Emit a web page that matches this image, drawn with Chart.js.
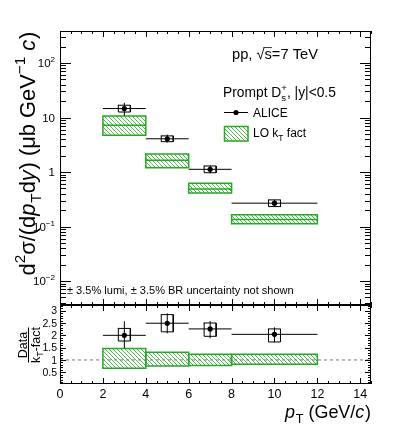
<!DOCTYPE html>
<html>
<head>
<meta charset="utf-8">
<script src="https://cdn.jsdelivr.net/npm/chart.js@4.4.1/dist/chart.umd.min.js"></script>
<style>
html,body{margin:0;padding:0;background:#fff;}
#wrap{position:relative;width:399px;height:437px;overflow:hidden;background:#fff;}
#cTop{position:absolute;left:0;top:0;}
#cBot{position:absolute;left:0;top:300px;}
</style>
</head>
<body>
<div id="wrap">
<canvas id="cTop" width="399" height="310"></canvas>
<canvas id="cBot" width="399" height="137"></canvas>
</div>
<script>
// ---------------- DATA ----------------
const binLow = [2, 4, 6, 8];
const binHigh = [4, 6, 8, 12];
const ptCenter = [3, 5, 7, 10];

const aliceValue    = [14.6, 4.07, 1.12, 0.268];
const aliceStatLow  = [10.8, 3.45, 0.95, 0.23];
const aliceStatHigh = [18.6, 4.85, 1.32, 0.31];
const aliceSysLow   = [12.6, 3.6, 0.97, 0.232];
const aliceSysHigh  = [16.8, 4.6, 1.29, 0.308];

const modelLow     = [4.73, 1.2, 0.41, 0.112];
const modelCentral = [7.2, 1.64, 0.49, 0.135];
const modelHigh    = [10.6, 2.14, 0.62, 0.164];

const ratioValue    = [2.0, 2.49, 2.26, 2.04];
const ratioStatLow  = [1.48, 2.08, 1.88, 1.71];
const ratioStatHigh = [2.57, 2.89, 2.58, 2.32];
const ratioSysLow   = [1.77, 2.14, 1.96, 1.73];
const ratioSysHigh  = [2.28, 2.84, 2.5, 2.26];
const ratioModelLow  = [0.66, 0.76, 0.78, 0.83];
const ratioModelHigh = [1.47, 1.31, 1.23, 1.23];
const ratioReference = [1];

const xTickValues = [0, 2, 4, 6, 8, 10, 12, 14];
const xTickLabels = ['0', '2', '4', '6', '8', '10', '12', '14'];
const yTopTickValues = [0.01, 0.1, 1, 10, 100];
const yTopTickLabels = ['10^{−2}', '10^{−1}', '1', '10', '10^{2}'];
const ratioTickValues = [0.5, 1, 1.5, 2, 2.5, 3];
const ratioTickLabels = ['0.5', '1', '1.5', '2', '2.5', '3'];

// ---------------- STYLE ----------------
const FONT = '"Liberation Sans", Arial, Helvetica, sans-serif';
const BLACK = '#000000';
const GREEN = 'rgb(34,170,34)';
const HATCH = 'rgb(80,185,80)';
const SYS_HW = 0.28;
const X_MIN = 0, X_MAX = 14.5;
const TOP_MIN = Math.pow(10, -2.44), TOP_MAX = Math.pow(10, 2.587);
const R_MIN = 0.025, R_MAX = 3.23;

function hatchPattern(ctx) {
  const t = document.createElement('canvas'); t.width = 4; t.height = 4;
  const g = t.getContext('2d');
  g.strokeStyle = HATCH; g.lineWidth = 1;
  g.beginPath();
  for (let k = -4; k <= 4; k += 4) { g.moveTo(k - 1, -1); g.lineTo(k + 5, 5); }
  g.stroke();
  return ctx.createPattern(t, 'repeat');
}

// ---------------- dataset builders ----------------
function seg(x0, y0, x1, y1, color, width, order, dash) {
  return { type: 'line', data: [{x: x0, y: y0}, {x: x1, y: y1}], borderColor: color, borderWidth: width,
    borderDash: dash || [], pointRadius: 0, fill: false, tension: 0, order: order, borderCapStyle: 'butt' };
}
function outline(x0, x1, lo, hi, color, width, order) {
  return { type: 'line', data: [{x: x0, y: hi}, {x: x1, y: hi}, {x: x1, y: lo}, {x: x0, y: lo}, {x: x0, y: hi}],
    borderColor: color, borderWidth: width, pointRadius: 0, fill: false, tension: 0, order: order,
    borderCapStyle: 'square', borderJoinStyle: 'miter' };
}
function filled(x0, x1, lo, hi, pattern, order) {
  return { type: 'line', data: [{x: x0, y: hi}, {x: x1, y: hi}], borderColor: 'rgba(0,0,0,0)', borderWidth: 1,
    pointRadius: 0, fill: {value: lo}, backgroundColor: pattern, tension: 0, order: order };
}
function markers(xs, ys, order) {
  return { type: 'line', data: xs.map((x, i) => ({x: x, y: ys[i]})), showLine: false, pointRadius: 2.6,
    pointStyle: 'circle', pointBackgroundColor: BLACK, pointBorderColor: BLACK, pointBorderWidth: 0, order: order };
}

// ---------------- rich text ----------------
function segFont(s, size) { return (s.it ? 'italic ' : '') + size + 'px ' + FONT; }
function layoutRich(ctx, segs, size) {
  let w = 0; const items = [];
  for (const s of segs) {
    if (s.subsup) {
      const ss = size * 0.7; ctx.font = segFont({}, ss);
      const w1 = ctx.measureText(s.subsup[0]).width, w2 = ctx.measureText(s.subsup[1]).width;
      items.push({t: s.subsup[0], x: w, dy: size * 0.32, size: ss});
      items.push({t: s.subsup[1], x: w, dy: -size * 0.42, size: ss});
      w += Math.max(w1, w2); continue;
    }
    const sz = (s.sub || s.sup) ? size * 0.7 : size;
    const dy = s.sub ? size * 0.3 : (s.sup ? -size * 0.42 : 0);
    ctx.font = segFont(s, sz);
    const tw = ctx.measureText(s.t).width;
    items.push({t: s.t, x: w, dy: dy, size: sz, it: s.it, over: s.over, w: tw});
    w += tw + (s.it ? size * 0.04 : 0);
  }
  return {items: items, w: w};
}
function drawRich(ctx, segs, x, y, size, align, color) {
  const L = layoutRich(ctx, segs, size);
  const x0 = align === 'right' ? x - L.w : (align === 'center' ? x - L.w / 2 : x);
  ctx.fillStyle = color || BLACK; ctx.textAlign = 'left'; ctx.textBaseline = 'alphabetic';
  for (const it of L.items) {
    ctx.font = segFont(it, it.size);
    ctx.fillText(it.t, x0 + it.x, y + it.dy);
    if (it.over) {
      ctx.strokeStyle = color || BLACK; ctx.lineWidth = 0.8;
      ctx.beginPath(); ctx.moveTo(x0 + it.x - 1, y - size * 0.78); ctx.lineTo(x0 + it.x + it.w, y - size * 0.78); ctx.stroke();
    }
  }
  return L.w;
}
function fitSize(ctx, segs, width, base) { return base * width / layoutRich(ctx, segs, base).w; }
function parseTick(lbl) {
  const m = lbl.match(/^(\d+)\^\{(.+)\}$/);
  return m ? [{t: m[1]}, {t: m[2], sup: true}] : [{t: lbl}];
}
function line(ctx, x0, y0, x1, y1) { ctx.beginPath(); ctx.moveTo(x0, y0); ctx.lineTo(x1, y1); ctx.stroke(); }

function drawXTicks(ctx, a, xs, maj, min) {
  for (let k = 0; k <= 29; k++) {
    const v = k * 0.5; if (v > X_MAX) break;
    const len = (k % 4 === 0) ? maj : min;
    const px = Math.round(xs.getPixelForValue(v)) + 0.5;
    line(ctx, px, a.top, px, a.top + len);
    line(ctx, px, a.bottom, px, a.bottom - len);
  }
}
function drawFrame(ctx, a) {
  ctx.strokeStyle = BLACK; ctx.lineWidth = 1;
  ctx.strokeRect(a.left + 0.5, a.top + 0.5, a.right - a.left - 1, a.bottom - a.top - 1);
}

// ---------------- TOP PANEL ----------------
const segYTitle = [{t: 'd'}, {t: '2', sup: true}, {t: 'σ/(d'}, {t: 'p', it: true}, {t: 'T', sub: true},
  {t: 'd'}, {t: 'y', it: true}, {t: ') (μb GeV'}, {t: '−1', sup: true}, {t: ' '}, {t: 'c', it: true}, {t: ')'}];
const segEnergy = [{t: 'pp, √'}, {t: 's', over: true}, {t: '=7 TeV'}];
const segHeader = [{t: 'Prompt D'}, {subsup: ['s', '+']}, {t: ', |y|<0.5'}];
const segAlice = [{t: 'ALICE'}];
const segModel = [{t: 'LO k'}, {t: 'T', sub: true}, {t: ' fact'}];
const segNote = [{t: '± 3.5% lumi, ± 3.5% BR uncertainty not shown'}];

const topDecor = {
  id: 'topDecor',
  afterDraw(chart) {
    const ctx = chart.ctx, a = chart.chartArea, xs = chart.scales.x, ys = chart.scales.y;
    ctx.save();
    drawFrame(ctx, a);
    ctx.lineWidth = 1; ctx.strokeStyle = BLACK;
    drawXTicks(ctx, a, xs, 6, 3);
    for (let d = -3; d <= 2; d++) {
      for (let k = 1; k <= 9; k++) {
        const v = k * Math.pow(10, d);
        if (v < TOP_MIN || v > TOP_MAX) continue;
        const len = k === 1 ? 11 : 6;
        const py = Math.round(ys.getPixelForValue(v)) + 0.5;
        line(ctx, a.left, py, a.left + len, py);
        line(ctx, a.right, py, a.right - len, py);
      }
    }
    yTopTickValues.forEach((v, i) => {
      const py = ys.getPixelForValue(v);
      drawRich(ctx, parseTick(yTopTickLabels[i]), 55, py + 4.2, 11.5, 'right');
    });
    // y title
    ctx.save();
    ctx.translate(34.5, 153.5); ctx.rotate(-Math.PI / 2);
    drawRich(ctx, segYTitle, 0, 0, fitSize(ctx, segYTitle, 244, 17), 'center');
    ctx.restore();
    // texts
    drawRich(ctx, segEnergy, 232, 59, fitSize(ctx, segEnergy, 86, 14), 'left');
    drawRich(ctx, segHeader, 223, 97, fitSize(ctx, segHeader, 113, 14), 'left');
    drawRich(ctx, segAlice, 253, 116.7, 12, 'left');
    drawRich(ctx, segModel, 253, 137.3, 12, 'left');
    drawRich(ctx, segNote, 67, 294, fitSize(ctx, segNote, 227, 11), 'left');
    // legend symbols
    ctx.strokeStyle = BLACK; ctx.lineWidth = 1;
    line(ctx, 224, 112.5, 248, 112.5);
    ctx.fillStyle = BLACK; ctx.beginPath(); ctx.arc(236, 112.5, 2.6, 0, Math.PI * 2); ctx.fill();
    ctx.fillStyle = hatchTop; ctx.fillRect(224, 126, 24, 15);
    ctx.strokeStyle = GREEN; ctx.lineWidth = 1.5; ctx.strokeRect(224.5, 126.5, 23.5, 14.5);
    ctx.restore();
  }
};

const ctxTop = document.getElementById('cTop').getContext('2d');
const hatchTop = hatchPattern(ctxTop);
const topDatasets = [];
for (let i = 0; i < ptCenter.length; i++) {
  topDatasets.push(seg(binLow[i], aliceValue[i], binHigh[i], aliceValue[i], BLACK, 1, 0));
  topDatasets.push(seg(ptCenter[i], aliceStatLow[i], ptCenter[i], aliceStatHigh[i], BLACK, 1, 0));
  topDatasets.push(outline(ptCenter[i] - SYS_HW, ptCenter[i] + SYS_HW, aliceSysLow[i], aliceSysHigh[i], BLACK, 1, 0));
  topDatasets.push(filled(binLow[i], binHigh[i], modelLow[i], modelHigh[i], hatchTop, 3));
  topDatasets.push(outline(binLow[i], binHigh[i], modelLow[i], modelHigh[i], GREEN, 1.5, 2));
  topDatasets.push(seg(binLow[i], modelCentral[i], binHigh[i], modelCentral[i], GREEN, 1.5, 2));
}
topDatasets.push(markers(ptCenter, aliceValue, -1));

new Chart(ctxTop, {
  type: 'line',
  data: { datasets: topDatasets },
  options: {
    responsive: false, animation: false, events: [],
    layout: { padding: { left: 60, right: 28, top: 31, bottom: 5 } },
    plugins: { legend: { display: false }, tooltip: { enabled: false }, title: { display: false } },
    scales: {
      x: { type: 'linear', min: X_MIN, max: X_MAX, display: false },
      y: { type: 'logarithmic', min: TOP_MIN, max: TOP_MAX, display: false }
    }
  },
  plugins: [topDecor]
});

// ---------------- RATIO PANEL ----------------
const OFF = 300;
const segXTitle = [{t: 'p', it: true}, {t: 'T', sub: true}, {t: ' (GeV/'}, {t: 'c', it: true}, {t: ')'}];
const segNum = [{t: 'Data'}];
const segDen = [{t: 'k'}, {t: 'T', sub: true}, {t: '-fact'}];

const botDecor = {
  id: 'botDecor',
  afterDraw(chart) {
    const ctx = chart.ctx, a = chart.chartArea, xs = chart.scales.x, ys = chart.scales.y;
    ctx.save();
    drawFrame(ctx, a);
    ctx.lineWidth = 1; ctx.strokeStyle = BLACK;
    drawXTicks(ctx, a, xs, 6, 3);
    for (let k = 1; k <= 32; k++) {
      const v = k * 0.1; if (v < R_MIN || v > R_MAX) continue;
      const len = (k % 5 === 0) ? 6 : 3;
      const py = Math.round(ys.getPixelForValue(v)) + 0.5;
      line(ctx, a.left, py, a.left + len, py);
      line(ctx, a.right, py, a.right - len, py);
    }
    ratioTickValues.forEach((v, i) => {
      drawRich(ctx, [{t: ratioTickLabels[i]}], 57, ys.getPixelForValue(v) + 3.8, 10.5, 'right');
    });
    xTickValues.forEach((v, i) => {
      drawRich(ctx, [{t: xTickLabels[i]}], xs.getPixelForValue(v), 397.5 - OFF, 12.5, 'center');
    });
    drawRich(ctx, segXTitle, 371, 418 - OFF, fitSize(ctx, segXTitle, 86, 17), 'right');
    // fraction title
    ctx.save();
    ctx.translate(0, 345 - OFF); ctx.rotate(-Math.PI / 2);
    drawRich(ctx, segNum, 0, 27, 12.5, 'center');
    drawRich(ctx, segDen, 0, 39.5, 12.5, 'center');
    ctx.strokeStyle = BLACK; ctx.lineWidth = 1;
    line(ctx, -17.5, 28.5, 17.5, 28.5);
    ctx.restore();
    ctx.restore();
  }
};

const ctxBot = document.getElementById('cBot').getContext('2d');
const hatchBot = hatchPattern(ctxBot);
const botDatasets = [];
for (let i = 0; i < ptCenter.length; i++) {
  botDatasets.push(seg(binLow[i], ratioValue[i], binHigh[i], ratioValue[i], BLACK, 1, 0));
  botDatasets.push(seg(ptCenter[i], ratioStatLow[i], ptCenter[i], ratioStatHigh[i], BLACK, 1, 0));
  botDatasets.push(outline(ptCenter[i] - SYS_HW, ptCenter[i] + SYS_HW, ratioSysLow[i], ratioSysHigh[i], BLACK, 1, 0));
  botDatasets.push(filled(binLow[i], binHigh[i], ratioModelLow[i], ratioModelHigh[i], hatchBot, 4));
  botDatasets.push(outline(binLow[i], binHigh[i], ratioModelLow[i], ratioModelHigh[i], GREEN, 1.5, 2));
}
botDatasets.push(seg(X_MIN, ratioReference[0], X_MAX, ratioReference[0], 'rgb(120,120,120)', 1, 1, [3, 3]));
botDatasets.push(markers(ptCenter, ratioValue, -1));

new Chart(ctxBot, {
  type: 'line',
  data: { datasets: botDatasets },
  options: {
    responsive: false, animation: false, events: [],
    layout: { padding: { left: 60, right: 28, top: 5, bottom: 53 } },
    plugins: { legend: { display: false }, tooltip: { enabled: false }, title: { display: false } },
    scales: {
      x: { type: 'linear', min: X_MIN, max: X_MAX, display: false },
      y: { type: 'linear', min: R_MIN, max: R_MAX, display: false }
    }
  },
  plugins: [botDecor]
});
</script>
</body>
</html>
